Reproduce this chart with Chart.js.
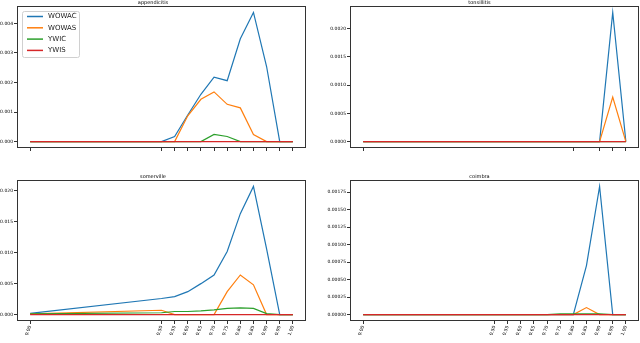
<!DOCTYPE html>
<html>
<head>
<meta charset="utf-8">
<script src="https://cdn.jsdelivr.net/npm/chart.js@4.4.0/dist/chart.umd.min.js"></script>
<style>
    html, body { margin: 0; padding: 0; background: #fff; }
    body { width: 640px; height: 343px; position: relative; overflow: hidden; }
    canvas { position: absolute; }
</style>
</head>
<body>
<canvas id="appendicitis" width="320" height="160" style="left:0;top:0"></canvas>
<canvas id="tonsillitis" width="320" height="160" style="left:320px;top:0"></canvas>
<canvas id="somerville" width="320" height="183" style="left:0;top:160px"></canvas>
<canvas id="coimbra" width="320" height="183" style="left:320px;top:160px"></canvas>
<script>
const seriesNames = ['WOWAC', 'WOWAS', 'YWIC', 'YWIS'];
const seriesColors = ['#1f77b4', '#ff7f0e', '#2ca02c', '#d62728'];

// x positions
const xFull = [0, 0.5, 0.55, 0.6, 0.65, 0.7, 0.75, 0.8, 0.85, 0.9, 0.95, 1.0];
const xTonsillitis = [0, 0.8, 0.9, 0.95, 1.0];

// appendicitis
const appendicitisWOWAC = [0, 0, 0.00017, 0.0009, 0.0016, 0.00218, 0.00206, 0.00348, 0.00437, 0.00254, 0, 0];
const appendicitisWOWAS = [0, 0, 0, 0.00087, 0.00143, 0.00168, 0.00126, 0.00114, 0.00024, 0, 0, 0];
const appendicitisYWIC = [0, 0, 0, 0, 0, 0.00024, 0.00017, 0, 0, 0, 0, 0];
const appendicitisYWIS = [0, 0, 0, 0, 0, 0, 0, 0, 0, 0, 0, 0];
const appendicitisYTicks = [0, 0.001, 0.002, 0.003, 0.004];

// tonsillitis
const tonsillitisWOWAC = [0, 0, 0, 0.00229, 0];
const tonsillitisWOWAS = [0, 0, 0, 0.00079, 0];
const tonsillitisYWIC = [0, 0, 0, 0, 0];
const tonsillitisYWIS = [0, 0, 0, 0, 0];
const tonsillitisYTicks = [0, 0.0005, 0.001, 0.0015, 0.002];

// somerville
const somervilleWOWAC = [0.0002, 0.0026, 0.0029, 0.0037, 0.005, 0.0064, 0.0102, 0.0163, 0.0207, 0.0106, 0, 0];
const somervilleWOWAS = [0.0001, 0.0007, 0, 0, 0, 0, 0.0037, 0.0064, 0.0048, 0, 0, 0];
const somervilleYWIC = [0.0001, 0.0003, 0.0005, 0.0005, 0.0006, 0.00075, 0.001, 0.0011, 0.001, 0.00015, 0, 0];
const somervilleYWIS = [0, 0, 0, 0, 0, 0, 0, 0, 0, 0, 0, 0];
const somervilleYTicks = [0, 0.005, 0.01, 0.015, 0.02];

// coimbra
const coimbraWOWAC = [0, 0, 0, 0, 0, 0, 0, 0, 0.0007, 0.00183, 0, 0];
const coimbraWOWAS = [0, 0, 0, 0, 0, 0, 0, 0, 0.0001, 0, 0, 0];
const coimbraYWIC = [0, 0, 0, 0, 0, 0, 0.00001, 0.00001, 0.00001, 0.00001, 0, 0];
const coimbraYWIS = [0, 0, 0, 0, 0, 0, 0, 0, 0, 0, 0, 0];
const coimbraYTicks = [0, 0.00025, 0.0005, 0.00075, 0.001, 0.00125, 0.0015, 0.00175];

const tickFont = { size: 4.5, family: 'DejaVu Sans' };

// white background + box round the plot area
const framePlugin = {
    id: 'frame',
    beforeDraw(chart) {
        const ctx = chart.ctx;
        ctx.save();
        ctx.fillStyle = '#fff';
        ctx.fillRect(0, 0, chart.width, chart.height);
        ctx.restore();
    },
    afterDraw(chart) {
        const a = chart.chartArea;
        const ctx = chart.ctx;
        ctx.save();
        ctx.strokeStyle = '#333';
        ctx.lineWidth = 1;
        ctx.strokeRect(Math.round(a.left) + 0.5, Math.round(a.top) + 0.5,
            Math.round(a.right - a.left) - 1, Math.round(a.bottom - a.top) - 1);
        ctx.restore();
    }
};

// matplotlib style legend in the upper left corner
const cornerLegend = {
    id: 'cornerLegend',
    afterDraw(chart) {
        const a = chart.chartArea;
        const ctx = chart.ctx;
        const x0 = a.left + 5, y0 = a.top + 5, w = 57, h = 46;
        ctx.save();
        ctx.fillStyle = 'rgba(255,255,255,0.8)';
        ctx.strokeStyle = '#d0d0d0';
        ctx.lineWidth = 1;
        ctx.beginPath();
        ctx.roundRect(x0 + 0.5, y0 + 0.5, w, h, 2);
        ctx.fill();
        ctx.stroke();
        chart.data.datasets.forEach((ds, i) => {
            const y = y0 + 5.5 + i * 11.3;
            ctx.strokeStyle = ds.borderColor;
            ctx.lineWidth = 1.5;
            ctx.beginPath();
            ctx.moveTo(x0 + 5, y);
            ctx.lineTo(x0 + 21, y);
            ctx.stroke();
            ctx.fillStyle = '#222';
            ctx.font = '7px "DejaVu Sans"';
            ctx.textBaseline = 'middle';
            ctx.fillText(ds.label, x0 + 26, y);
        });
        ctx.restore();
    }
};

function makePanel(id, title, xs, series, yTicks, decimals, p) {
    const peak = Math.max(...series.flat());
    const plugins = [framePlugin];
    if (p.legend) plugins.push(cornerLegend);

    new Chart(document.getElementById(id), {
        type: 'line',
        data: {
            datasets: series.map((vals, i) => ({
                label: seriesNames[i],
                data: vals.map((v, j) => ({ x: xs[j], y: v })),
                borderColor: seriesColors[i],
                borderWidth: 1.2,
                pointRadius: 0,
                fill: false,
                tension: 0,
                order: 4 - i
            }))
        },
        options: {
            responsive: false,
            animation: false,
            devicePixelRatio: 1,
            layout: { padding: { top: p.padTop, right: p.padRight, left: 0, bottom: 0 } },
            plugins: {
                legend: { display: false },
                tooltip: { enabled: false },
                title: {
                    display: true,
                    text: title,
                    color: '#000',
                    font: { size: 5, family: 'DejaVu Sans', weight: 'normal' },
                    padding: 0
                }
            },
            scales: {
                x: {
                    type: 'linear',
                    min: -0.05,
                    max: 1.05,
                    afterBuildTicks: axis => { axis.ticks = xs.map(v => ({ value: v })); },
                    afterFit: axis => { axis.height = p.xHeight; },
                    grid: { drawOnChartArea: false, tickLength: 3, color: '#333' },
                    border: { display: false },
                    ticks: {
                        font: tickFont,
                        color: '#000',
                        padding: 1,
                        autoSkip: false,
                        minRotation: 70,
                        maxRotation: 70,
                        callback: v => p.xLabels ? v.toFixed(2) : ''
                    }
                },
                y: {
                    type: 'linear',
                    min: -0.05 * peak,
                    max: 1.05 * peak,
                    afterBuildTicks: axis => { axis.ticks = yTicks.map(v => ({ value: v })); },
                    afterFit: axis => { axis.width = p.yWidth; },
                    grid: { drawOnChartArea: false, tickLength: 3, color: '#333' },
                    border: { display: false },
                    ticks: {
                        font: tickFont,
                        color: '#000',
                        padding: 1,
                        callback: v => v.toFixed(decimals)
                    }
                }
            }
        },
        plugins: plugins
    });
}

makePanel('appendicitis', 'appendicitis', xFull,
    [appendicitisWOWAC, appendicitisWOWAS, appendicitisYWIC, appendicitisYWIS],
    appendicitisYTicks, 3,
    { padTop: 0, padRight: 14, yWidth: 17, xHeight: 12, xLabels: false, legend: true });

makePanel('tonsillitis', 'tonsillitis', xTonsillitis,
    [tonsillitisWOWAC, tonsillitisWOWAS, tonsillitisYWIC, tonsillitisYWIS],
    tonsillitisYTicks, 4,
    { padTop: 0, padRight: 1, yWidth: 30, xHeight: 12, xLabels: false, legend: false });

makePanel('somerville', 'somerville', xFull,
    [somervilleWOWAC, somervilleWOWAS, somervilleYWIC, somervilleYWIS],
    somervilleYTicks, 3,
    { padTop: 14, padRight: 14, yWidth: 17, xHeight: 22, xLabels: true, legend: false });

makePanel('coimbra', 'coimbra', xFull,
    [coimbraWOWAC, coimbraWOWAS, coimbraYWIC, coimbraYWIS],
    coimbraYTicks, 5,
    { padTop: 14, padRight: 1, yWidth: 30, xHeight: 22, xLabels: true, legend: false });
</script>
</body>
</html>
